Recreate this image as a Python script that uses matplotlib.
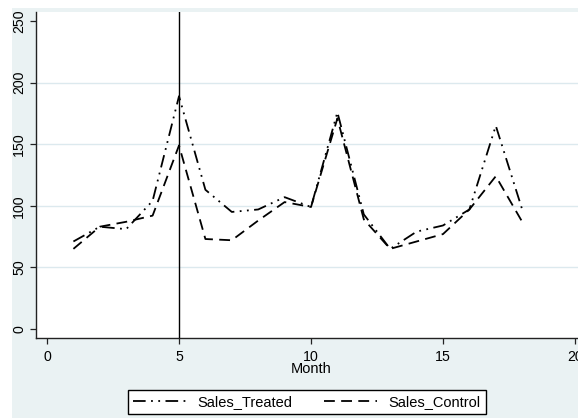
import numpy as np
import matplotlib.pyplot as plt
from matplotlib.patches import Rectangle

plt.rcParams['font.family'] = ['Liberation Sans', 'DejaVu Sans']

months = list(range(1, 19))
sales_treated = [71, 83, 81, 104, 189, 113, 95, 97, 107, 99,
                 176, 93, 65, 79, 84, 97, 165, 97]
sales_control = [65, 83, 87, 92, 149, 73, 72, 88, 103, 99,
                 171, 89, 65, 71, 77, 97, 124, 87]
x_ticks = [0, 5, 10, 15, 20]
y_ticks = [0, 50, 100, 150, 200, 250]
event_month = 5

W, H = 578, 419
BG = '#EAF2F3'
GRID = '#DCE9EE'

fig = plt.figure(figsize=(W / 100, H / 100), dpi=100, facecolor='white')

# Stata-style outer band, kept behind the plot region
fig.patches.append(Rectangle((12 / W, 1 / H), 1, (418 - 8) / H,
                             transform=fig.transFigure, facecolor=BG,
                             edgecolor='none', zorder=-10))

ax = fig.add_axes([36 / W, (H - 338) / H, 550 / W, 326 / H])
ax.set_zorder(1)
ax.set_facecolor('white')
ax.set_xlim(-0.417, 20.417)
ax.set_ylim(-7.4, 257.4)

for v in y_ticks[1:-1]:
    ax.axhline(v, color=GRID, lw=1.0, zorder=1)

ax.plot(months, sales_treated, color='black', lw=1.3,
        dashes=(7, 3, 1, 3, 1, 3), label='Sales_Treated', zorder=3)
ax.plot(months, sales_control, color='black', lw=1.3,
        dashes=(6, 3.5), label='Sales_Control', zorder=3)
ax.axvline(event_month, color='black', lw=1.0, zorder=4)

ax.spines['top'].set_visible(False)
ax.spines['right'].set_visible(False)
for s in ('left', 'bottom'):
    ax.spines[s].set_color('#222222')
    ax.spines[s].set_linewidth(1.0)

ax.set_xticks(x_ticks)
ax.set_yticks(y_ticks)
ax.set_yticklabels([str(v) for v in y_ticks], rotation=90, va='center')
ax.tick_params(axis='both', direction='out', length=4, width=0.9,
               color='#222222', labelsize=10.2)
ax.tick_params(axis='x', pad=4.5)
ax.tick_params(axis='y', pad=3)
ax.set_xlabel('Month', fontsize=10.5, labelpad=-1)

leg = fig.legend(loc='center', bbox_to_anchor=(307 / W, (H - 402) / H), ncol=2,
                 fontsize=10.5, frameon=True, fancybox=False, edgecolor='black',
                 framealpha=1, handlelength=3.6, columnspacing=2.2,
                 borderpad=0.35, handletextpad=0.8)
leg.set_zorder(5)

fig.savefig('out.png', dpi=100, facecolor='white')
